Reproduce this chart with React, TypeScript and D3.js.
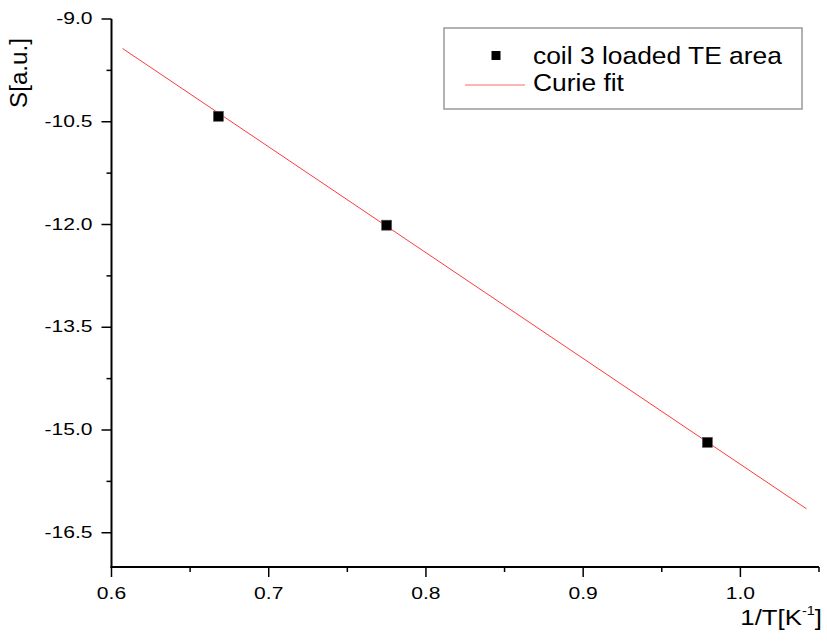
import React from "react";
import * as d3 from "d3";

// Measured signal versus inverse temperature
const invT = [0.668, 0.775, 0.979];
const signal = [-10.42, -12.01, -15.18];

// Linear Curie fit, sampled at its two drawn end points
const fitInvT = [0.607, 1.042];
const fitSignal = [-9.43, -16.15];

const xMajorTicks = [0.6, 0.7, 0.8, 0.9, 1.0];
const xMinorTicks = [0.65, 0.75, 0.85, 0.95, 1.05];
const yMajorTicks = [-9.0, -10.5, -12.0, -13.5, -15.0, -16.5];
const yMinorTicks = [-9.75, -11.25, -12.75, -14.25, -15.75];

const seriesName = "coil 3 loaded TE area";
const fitName = "Curie fit";

const W = 827;
const H = 642;
const FONT = "'Liberation Sans', Arial, sans-serif";

export default function App() {
  const x = d3.scaleLinear().domain([0.6, 1.05]).range([111.5, 819]);
  const y = d3.scaleLinear().domain([-17, -9]).range([567, 19]);

  const fitLine = d3
    .line<number>()
    .x((_, i) => x(fitInvT[i]))
    .y((d) => y(d))(fitSignal);

  // plain hyphen-minus for negative labels
  const fmt = (v: number) => d3.format(".1f")(v).replace("\u2212", "-");
  const sx = 1.24;
  const tickFont = 17;

  return (
    <svg
      width={W}
      height={H}
      style={{ position: "absolute", left: 0, top: 0, background: "#fff" }}
      fontFamily={FONT}
    >
      {/* axes */}
      <line x1={x(0.6)} x2={x(0.6)} y1={y(-9)} y2={y(-17) + 1} stroke="#000" strokeWidth={2} />
      <line x1={x(0.6) - 1} x2={x(1.05)} y1={y(-17)} y2={y(-17)} stroke="#000" strokeWidth={2} />

      {yMajorTicks.map((v) => (
        <g key={"ym" + v}>
          <line x1={x(0.6) - 10} x2={x(0.6)} y1={y(v)} y2={y(v)} stroke="#000" strokeWidth={1.5} />
          <text
            transform={`translate(${x(0.6) - 19},${y(v) + 5}) scale(${sx},1)`}
            textAnchor="end"
            fontSize={tickFont}
            fill="#000"
          >
            {fmt(v)}
          </text>
        </g>
      ))}
      {yMinorTicks.map((v) => (
        <line key={"yn" + v} x1={x(0.6) - 5} x2={x(0.6)} y1={y(v)} y2={y(v)} stroke="#000" strokeWidth={1.5} />
      ))}

      {xMajorTicks.map((v) => (
        <g key={"xm" + v}>
          <line x1={x(v)} x2={x(v)} y1={y(-17)} y2={y(-17) + 10} stroke="#000" strokeWidth={1.5} />
          <text
            transform={`translate(${x(v)},${y(-17) + 32}) scale(${sx},1)`}
            textAnchor="middle"
            fontSize={tickFont}
            fill="#000"
          >
            {fmt(v)}
          </text>
        </g>
      ))}
      {xMinorTicks.map((v) => (
        <line key={"xn" + v} x1={x(v)} x2={x(v)} y1={y(-17)} y2={y(-17) + 5} stroke="#000" strokeWidth={1.5} />
      ))}

      {/* axis titles */}
      <text
        transform={`translate(27,73) rotate(-90) scale(1.05,1)`}
        textAnchor="middle"
        fontSize={23}
        fill="#000"
      >
        S[a.u.]
      </text>
      <text
        transform={`translate(822,625) scale(1.12,1)`}
        textAnchor="end"
        fontSize={23}
        fill="#000"
      >
        1/T[K<tspan fontSize={13} dy={-10}>-1</tspan>
        <tspan dy={10}>]</tspan>
      </text>

      {/* fit */}
      <path d={fitLine ?? ""} fill="none" stroke="#ff3a3a" strokeWidth={1} />

      {/* data */}
      {invT.map((v, i) => (
        <rect
          key={"p" + i}
          x={x(v) - 5}
          y={y(signal[i]) - 5}
          width={10}
          height={10}
          fill="#000"
          stroke="#555"
          strokeWidth={0.6}
        />
      ))}

      {/* legend */}
      <rect x={444} y={28} width={358} height={81} fill="#fff" stroke="#999" strokeWidth={1.5} />
      <rect x={491.5} y={51} width={9} height={9} fill="#000" />
      <text transform={`translate(533,63.5) scale(1.1,1)`} fontSize={24} fill="#000">
        {seriesName}
      </text>
      <line x1={465} x2={525} y1={85} y2={85} stroke="#ff6a6a" strokeWidth={1} />
      <text transform={`translate(533,91) scale(1.1,1)`} fontSize={24} fill="#000">
        {fitName}
      </text>
    </svg>
  );
}
